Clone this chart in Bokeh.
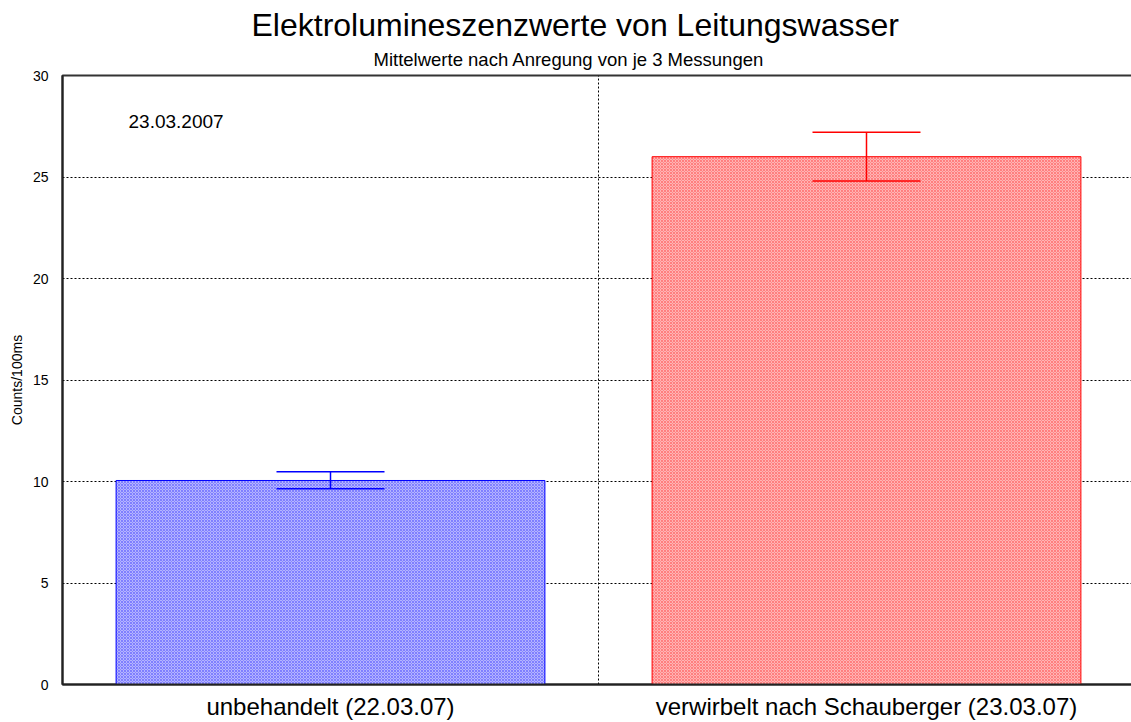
from bokeh.plotting import figure
from bokeh.models import ColumnDataSource, Whisker, Title, Label, Range1d, SingleIntervalTicker, FixedTicker
from bokeh.embed import file_html
from bokeh.resources import INLINE

categories = ["unbehandelt (22.03.07)", "verwirbelt nach Schauberger (23.03.07)"]
means = [10.05, 26.0]
upper = [10.48, 27.2]
lower = [9.64, 24.8]
fill_colors = ["#b4b4ff", "#ffb4b4"]
line_colors = ["#0000ff", "#ff0000"]
hatch_colors = ["#5a5aff", "#ff5a5a"]
date_note = "23.03.2007"
title_text = "Elektrolumineszenzwerte von Leitungswasser"
subtitle_text = "Mittelwerte nach Anregung von je 3 Messungen"

FONT = "Liberation Sans"

xpos = [i + 0.5 for i in range(len(categories))]
src = ColumnDataSource(dict(x=xpos, mean=means, upper=upper, lower=lower,
                            fill=fill_colors, line=line_colors, hatch=hatch_colors))

p = figure(width=1134, height=722, output_backend="svg", toolbar_location=None,
           x_range=Range1d(0, len(categories)), y_range=Range1d(0, 30),
           min_border_left=62, min_border_right=0, min_border_top=75, min_border_bottom=37)

p.add_layout(Title(text=subtitle_text, align="left", offset=311,
                   text_font=FONT, text_font_size="18.5px", text_font_style="normal",
                   text_color="black", standoff=12), "above")
p.add_layout(Title(text=title_text, align="left", offset=189,
                   text_font=FONT, text_font_size="32px", text_font_style="normal",
                   text_color="black", standoff=-4), "above")

p.vbar(x="x", top="mean", width=0.8, source=src, fill_color="fill", line_color="line",
       line_width=1, hatch_pattern="diagonal_cross", hatch_color="hatch", hatch_scale=3,
       hatch_weight=0.6)

w = Whisker(base="x", upper="upper", lower="lower", source=src, line_color="line",
            line_width=1.5, dimension="height", level="overlay")
for head in (w.upper_head, w.lower_head):
    head.size = 108
    head.line_color = "line"
    head.line_width = 1.5
p.add_layout(w)

p.add_layout(Label(x=66, y=563, x_units="screen", y_units="screen", text=date_note,
                   text_font=FONT, text_font_size="19px", text_color="black",
                   text_baseline="middle"))

p.xgrid.ticker = FixedTicker(ticks=[1])
p.xgrid.grid_line_color = "black"
p.xgrid.grid_line_dash = "2 2"
p.ygrid.grid_line_color = "black"
p.ygrid.grid_line_dash = "2 2"
p.ygrid.grid_line_width = 1
p.yaxis.ticker = SingleIntervalTicker(interval=5)
p.yaxis.axis_label = "Counts/100ms"
p.yaxis.axis_label_text_font = FONT
p.yaxis.axis_label_text_font_size = "14px"
p.yaxis.axis_label_text_font_style = "normal"
p.yaxis.axis_label_text_color = "black"
p.yaxis.axis_label_standoff = 5
p.yaxis.major_label_text_font = FONT
p.yaxis.major_label_text_font_size = "14px"
p.yaxis.major_label_standoff = 8
p.xaxis.ticker = FixedTicker(ticks=xpos)
p.xaxis.major_label_overrides = {x: c for x, c in zip(xpos, categories)}
p.xaxis.major_label_text_font = FONT
p.xaxis.major_label_text_font_size = "24px"
p.xaxis.major_label_standoff = 2
for ax in (p.xaxis[0], p.yaxis[0]):
    ax.major_tick_line_color = None
    ax.minor_tick_line_color = None
    ax.axis_line_color = "#222222"
    ax.axis_line_width = 2
    ax.major_label_text_color = "black"
p.outline_line_color = "#333333"
p.outline_line_width = 2
p.background_fill_color = "white"
p.border_fill_color = "white"

open("out.html", "w").write(file_html(p, INLINE))
